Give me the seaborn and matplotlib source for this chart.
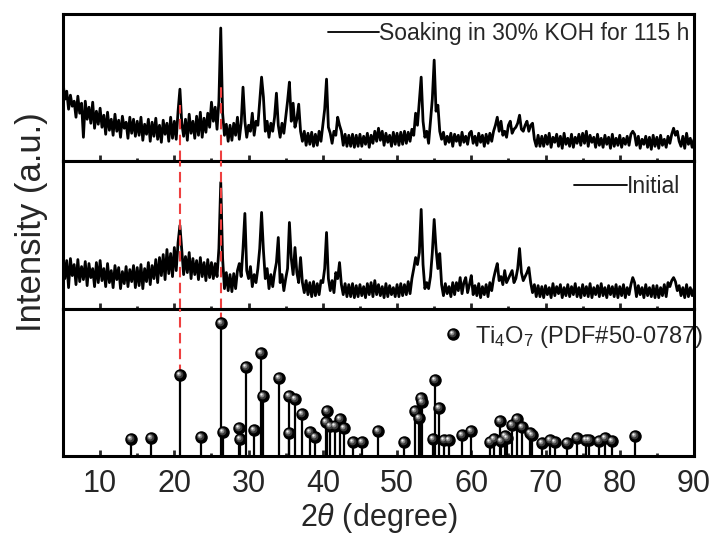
import numpy as np
import matplotlib
matplotlib.use("Agg")
import matplotlib.pyplot as plt
import seaborn as sns
from matplotlib.path import Path
from matplotlib.lines import Line2D
from matplotlib.legend_handler import HandlerTuple
from matplotlib.ticker import MultipleLocator

# ---------------- data (intensity in arbitrary units) ----------------
two_theta = np.arange(5.0, 90.001, 0.25)

soaked = [
    79, 62, 70, 52, 66, 55, 60, 44, 65, 48, 58, 24, 60, 42, 54, 38, 59, 33, 50, 37,
    53, 34, 46, 27, 49, 31, 42, 26, 47, 30, 41, 24, 45, 33, 39, 23, 44, 28, 42, 25,
    40, 26, 44, 21, 37, 27, 42, 20, 39, 25, 43, 22, 36, 19, 41, 27, 38, 20, 44, 23,
    40, 22, 50, 72, 38, 25, 42, 21, 47, 28, 40, 23, 45, 26, 49, 24, 43, 29, 48, 34,
    59, 40, 54, 32, 60, 133, 48, 26, 37, 20, 36, 21, 38, 26, 44, 22, 38, 74, 40, 24,
    36, 30, 48, 26, 40, 36, 60, 84, 64, 30, 40, 24, 38, 30, 44, 68, 36, 24, 38, 28,
    44, 60, 79, 40, 58, 34, 42, 57, 30, 20, 30, 16, 28, 17, 29, 15, 27, 16, 30, 20,
    36, 52, 82, 34, 28, 18, 30, 26, 44, 36, 30, 16, 27, 15, 26, 15, 27, 14, 26, 15,
    27, 15, 25, 17, 28, 14, 26, 18, 30, 20, 33, 21, 30, 16, 28, 19, 26, 15, 29, 17,
    28, 16, 29, 17, 30, 18, 29, 20, 32, 26, 48, 36, 60, 84, 40, 24, 30, 18, 40, 62,
    101, 50, 56, 30, 22, 29, 17, 25, 19, 28, 15, 27, 20, 26, 16, 29, 19, 25, 17, 28,
    30, 18, 25, 16, 28, 19, 26, 15, 27, 18, 28, 20, 30, 36, 44, 30, 40, 26, 30, 24,
    36, 40, 28, 32, 34, 38, 46, 32, 30, 36, 40, 30, 36, 38, 22, 15, 26, 15, 25, 15,
    26, 17, 28, 14, 24, 19, 27, 15, 25, 13, 28, 17, 23, 15, 27, 14, 24, 18, 27, 16,
    28, 18, 30, 15, 26, 19, 24, 14, 27, 16, 23, 14, 26, 17, 24, 13, 27, 15, 23, 16,
    26, 14, 23, 17, 25, 16, 27, 30, 27, 16, 25, 13, 22, 17, 25, 14, 24, 12, 26, 15,
    24, 13, 26, 16, 22, 14, 25, 18, 27, 33, 26, 30, 20, 15, 25, 13, 28, 17, 23, 14,
    22,
]

initial = [
    55, 30, 48, 21, 50, 33, 44, 24, 49, 27, 42, 29, 47, 23, 45, 31, 40, 22, 46, 26,
    48, 28, 40, 22, 45, 26, 38, 21, 43, 29, 41, 20, 37, 25, 42, 22, 39, 27, 43, 21,
    41, 23, 44, 20, 40, 27, 46, 24, 43, 30, 49, 26, 51, 33, 54, 29, 59, 35, 55, 32,
    61, 38, 66, 83, 58, 34, 52, 36, 56, 30, 50, 34, 48, 29, 51, 32, 46, 28, 49, 31,
    46, 30, 45, 32, 60, 126, 50, 20, 36, 18, 34, 17, 35, 20, 38, 45, 32, 60, 95, 38,
    30, 42, 22, 34, 26, 40, 60, 96, 58, 30, 40, 20, 34, 22, 36, 46, 71, 26, 34, 18,
    30, 40, 86, 50, 34, 61, 36, 26, 51, 26, 16, 28, 14, 26, 12, 27, 13, 25, 14, 28,
    26, 40, 76, 30, 18, 28, 16, 36, 30, 46, 24, 14, 25, 12, 24, 12, 25, 11, 23, 12,
    24, 13, 22, 11, 25, 14, 26, 12, 28, 14, 24, 13, 22, 11, 25, 12, 23, 14, 21, 12,
    24, 12, 25, 13, 24, 14, 27, 15, 30, 40, 51, 44, 56, 99, 44, 20, 26, 20, 32, 56,
    89, 60, 40, 55, 24, 13, 25, 15, 22, 12, 26, 14, 26, 18, 31, 15, 26, 31, 16, 24,
    33, 14, 23, 13, 25, 11, 22, 14, 24, 12, 26, 18, 30, 38, 45, 28, 32, 24, 38, 26,
    30, 34, 38, 26, 30, 40, 60, 36, 28, 32, 36, 41, 26, 16, 24, 12, 23, 12, 22, 11,
    23, 14, 21, 11, 25, 13, 22, 15, 24, 11, 21, 13, 24, 12, 22, 14, 25, 12, 21, 11,
    24, 13, 22, 12, 25, 11, 21, 14, 23, 12, 25, 13, 21, 11, 23, 14, 22, 12, 24, 11,
    22, 13, 24, 11, 21, 14, 24, 31, 26, 12, 23, 14, 21, 11, 24, 13, 21, 12, 23, 11,
    23, 11, 21, 13, 24, 12, 26, 22, 28, 31, 27, 18, 23, 13, 21, 11, 24, 12, 21, 13,
    20,
]

# Ti4O7 reference pattern (PDF#50-0787)
ref_pos = [14.2, 16.8, 20.8, 23.6, 26.35, 26.55, 28.7, 28.9, 29.6, 30.7, 31.7, 32.0,
           34.1, 35.5, 35.4, 36.3, 37.2, 38.3, 39.0, 40.5, 40.4, 41.0, 41.7, 42.3,
           42.8, 44.1, 45.3, 47.4, 51.0, 52.4, 53.0, 53.2, 53.3, 54.8, 55.1, 55.7,
           56.3, 57.0, 58.7, 60.0, 62.5, 63.0, 63.8, 64.0, 64.6, 64.8, 65.5, 66.2,
           66.8, 67.9, 68.2, 69.5, 70.6, 71.3, 72.9, 74.2, 75.4, 75.9, 77.2, 78.0,
           78.9, 82.1]
ref_int = [17, 18, 81, 19, 133, 24, 28, 17, 89, 26, 103, 60,
           78, 60, 23, 57, 42, 24, 19, 45, 34, 30, 30, 37,
           28, 14, 14, 25, 14, 45, 38, 58, 54, 17, 76, 48,
           16, 16, 21, 25, 14, 17, 35, 15, 20, 18, 31, 37,
           29, 23, 21, 13, 16, 14, 13, 18, 16, 16, 15, 18,
           15, 20]

x_ticks = [10, 20, 30, 40, 50, 60, 70, 80, 90]
guide_pos = [20.8, 26.35]
labels = ["Soaking in 30% KOH for 115 h", "Initial", r"Ti$_4$O$_7$ (PDF#50-0787)"]

# ---------------- style ----------------
sns.set_style("white")
plt.rcParams["font.family"] = ["Liberation Sans", "DejaVu Sans"]
plt.rcParams["mathtext.fontset"] = "custom"
plt.rcParams["mathtext.rm"] = "Liberation Sans"
plt.rcParams["mathtext.it"] = "Liberation Sans:italic"
plt.rcParams["axes.linewidth"] = 2.2

RED = "#ee4040"

fig = plt.figure(figsize=(7.2, 5.39), dpi=100)
gs = fig.add_gridspec(3, 1, left=63 / 720, right=694 / 720,
                      top=1 - 14 / 539, bottom=1 - 456 / 539, hspace=0)
axes = [fig.add_subplot(gs[i]) for i in range(3)]
for a in axes[1:]:
    a.sharex(axes[0])

for a in axes:
    a.set_xlim(5, 90)
    a.set_ylim(0, 147)
    a.set_yticks([])
    a.xaxis.set_major_locator(MultipleLocator(10))
    a.xaxis.set_minor_locator(MultipleLocator(5))
    a.tick_params(axis="x", which="major", direction="in", length=4.5, width=2.0,
                  bottom=True, top=False, labelsize=22, pad=9)
    a.tick_params(axis="x", which="minor", direction="in", length=2.2, width=2.0,
                  bottom=True, top=False)
    for s in a.spines.values():
        s.set_linewidth(2.2)
        s.set_color("black")

for a in axes[:2]:
    a.tick_params(axis="x", which="both", labelbottom=False)

# XRD patterns
sns.lineplot(x=two_theta, y=soaked, ax=axes[0], color="black", lw=2.0,
             estimator=None, sort=False)
sns.lineplot(x=two_theta, y=initial, ax=axes[1], color="black", lw=2.0,
             estimator=None, sort=False)

# stick pattern
ax3 = axes[2]
ax3.vlines(ref_pos, 0, ref_int, color="black", lw=1.6, zorder=3)


def highlight(cx, cy, r):
    circ = Path.circle((cx, cy), r)
    verts = np.vstack([[[0.5, 0.5]], circ.vertices])
    codes = np.concatenate([[Path.MOVETO], circ.codes])
    return Path(verts, codes)


MS = 9
ball_layers = [
    dict(marker="o", color="black"),
    dict(marker=highlight(-0.07, 0.07, 0.30), color="#3a3a3a"),
    dict(marker=highlight(-0.12, 0.12, 0.19), color="#8a8a8a"),
    dict(marker=highlight(-0.16, 0.16, 0.09), color="#f2f2f2"),
]
for i, layer in enumerate(ball_layers):
    ax3.plot(ref_pos, ref_int, ls="none", marker=layer["marker"], ms=MS,
             mfc=layer["color"], mec="none", zorder=5 + i)

# red dashed guides
dash = dict(color=RED, lw=1.5, ls=(0, (5, 2.6)), zorder=4)
axes[0].axvline(guide_pos[0], ymin=0, ymax=0.38, **dash)
axes[0].axvline(guide_pos[1], ymin=0, ymax=0.52, **dash)
axes[1].axvline(guide_pos[0], ymin=0, ymax=1, **dash)
axes[1].axvline(guide_pos[1], ymin=0, ymax=1, **dash)
ax3.axvline(guide_pos[0], ymin=81 / 147, ymax=1, **dash)
ax3.axvline(guide_pos[1], ymin=133 / 147, ymax=1, **dash)

# legends
leg_kw = dict(frameon=False, borderpad=0, borderaxespad=0, loc="center right")
line_h = Line2D([], [], color="black", lw=1.3)
axes[0].legend([line_h], [labels[0]], handlelength=2.2, handletextpad=0.0,
               fontsize=16.5, bbox_to_anchor=(0.992, 0.87), **leg_kw)
axes[1].legend([line_h], [labels[1]], handlelength=2.3, handletextpad=0.0,
               fontsize=16.5, bbox_to_anchor=(0.978, 0.83), **leg_kw)
ball_h = tuple(Line2D([], [], ls="none", marker=l["marker"], ms=MS,
                      mfc=l["color"], mec="none") for l in ball_layers)
lg = ax3.legend([ball_h], [labels[2]], handlelength=0.8, handletextpad=0.55,
                fontsize=17,
                handler_map={tuple: HandlerTuple(ndivide=1, pad=0)},
                bbox_to_anchor=(1.015, 0.81), **leg_kw)
lg.set_zorder(1)

ax3.set_xticks(x_ticks)
ax3.set_xlabel(r"2$\theta$ (degree)", fontsize=22, labelpad=2)
fig.text(32 / 720, 1 - 222 / 539, "Intensity (a.u.)", rotation=90,
         ha="center", va="center", fontsize=25)

fig.savefig("out.png", dpi=100)
